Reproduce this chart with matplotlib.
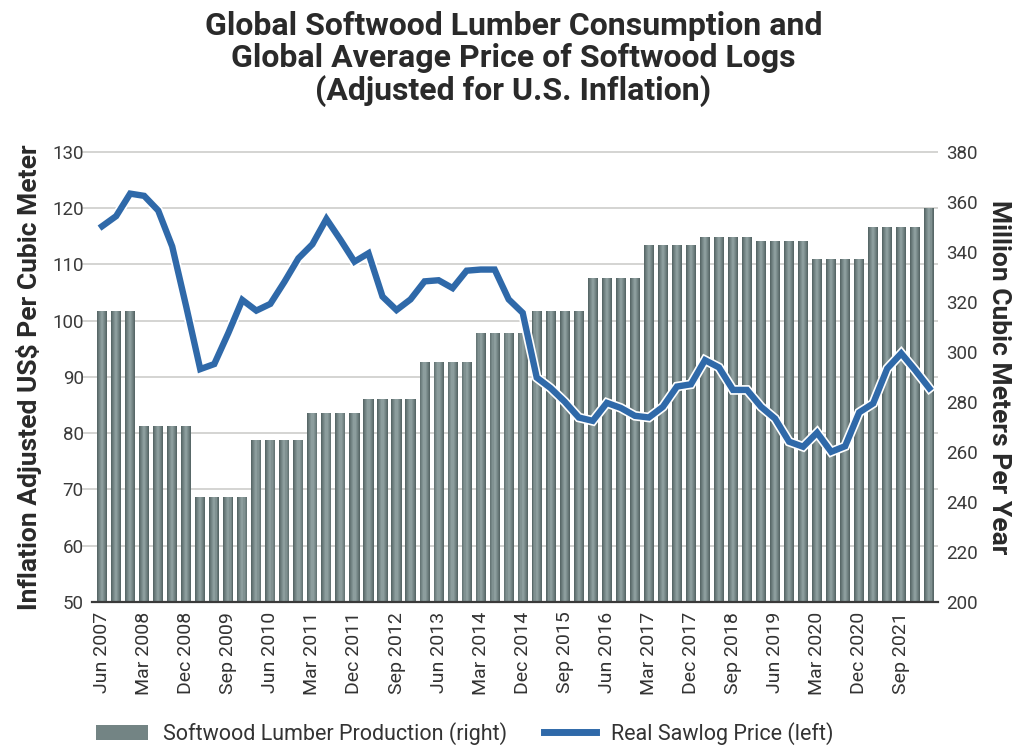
import matplotlib.pyplot as plt
import matplotlib.patheffects as pe
from matplotlib.patches import Patch
from matplotlib.lines import Line2D
from matplotlib.transforms import blended_transform_factory
import numpy as np

plt.rcParams['font.family'] = ['Roboto', 'DejaVu Sans']

# quarterly periods, Jun 2007 .. Mar 2022
months = ['Mar', 'Jun', 'Sep', 'Dec']
quarters = []
for year in range(2007, 2023):
    for m in months:
        quarters.append(f'{m} {year}')
quarters = quarters[1:61]

# annual production (million m3), repeated for each quarter of the year
production_by_year = {
    2007: 316.4, 2008: 270.4, 2009: 242.1, 2010: 264.8, 2011: 275.7,
    2012: 281.3, 2013: 296.1, 2014: 307.5, 2015: 316.4, 2016: 329.6,
    2017: 342.8, 2018: 346.1, 2019: 344.5, 2020: 337.3, 2021: 349.9,
    2022: 357.7,
}
production = [production_by_year[int(q.split()[1])] for q in quarters]

# real sawlog price, US$ per m3
price = [
    116.8, 118.6, 122.6, 122.2, 119.6, 113.2, 102.5, 91.4, 92.3, 97.8,
    103.7, 101.8, 103.0, 106.9, 111.1, 113.6, 118.1, 114.4, 110.5, 112.0,
    104.3, 101.9, 103.8, 107.0, 107.2, 105.8, 108.9, 109.1, 109.1, 103.8,
    101.4, 89.9, 88.0, 85.6, 82.8, 82.2, 85.4, 84.5, 83.1, 82.8,
    84.7, 88.3, 88.7, 93.0, 91.7, 87.7, 87.7, 84.7, 82.6, 78.5,
    77.6, 80.1, 76.7, 77.7, 83.7, 85.3, 91.5, 94.2, 91.2, 88.0,
]

x = np.arange(len(quarters))

fig = plt.figure(figsize=(10.27, 7.48), dpi=100)
ax = fig.add_axes([0.0896, 0.1952, 0.8237, 0.6016])
ax2 = ax.twinx()

# bars live on the right axis, price line on the left axis drawn on top
ax.set_zorder(ax2.get_zorder() + 1)
ax.patch.set_visible(False)
ax2.set_facecolor('#f2f2ee')

# gridlines follow the left scale but sit under the bars
left_ticks = np.arange(50, 131, 10)
trans = blended_transform_factory(ax2.transAxes, ax.transData)
ax2.hlines(left_ticks[1:], -0.012, 1, transform=trans, colors='#c9c9c6',
           linewidth=1.1, zorder=0, clip_on=False)

# cylinder-like shading: stacked bars, narrower and lighter towards the centre
shades = [(0.72, '#586868'), (0.60, '#667676'), (0.46, '#738484'),
          (0.32, '#809191'), (0.16, '#8c9d9d')]
for w, c in shades:
    ax2.bar(x, production, width=w, color=c, linewidth=0, zorder=2)

ax.plot(x, price, color='#2f69a9', linewidth=4.6, solid_joinstyle='miter',
        zorder=3, path_effects=[pe.Stroke(linewidth=7, foreground='white'),
                                pe.Normal()])

ax.set_xlim(-0.72, 59.62)
ax.set_ylim(50, 130)
ax2.set_ylim(200, 380)
ax.set_yticks(left_ticks)
ax2.set_yticks(np.arange(200, 381, 20))

ax.set_xticks(x[::3])
ax.set_xticklabels(quarters[::3], rotation=90, fontsize=14, color='#333333')
ax.tick_params(axis='x', length=0, pad=7)
ax.tick_params(axis='y', length=0, pad=6, labelsize=13.5, labelcolor='#3a3a3a')
ax2.tick_params(axis='y', length=0, pad=6, labelsize=13.5, labelcolor='#3a3a3a')

for a in (ax, ax2):
    for s in ('top', 'left', 'right', 'bottom'):
        a.spines[s].set_visible(False)
ax.spines['bottom'].set_visible(True)
ax.spines['bottom'].set_color('#3a3a3a')
ax.spines['bottom'].set_linewidth(1.6)

ax.set_ylabel('Inflation Adjusted US$ Per Cubic Meter', fontsize=19,
              fontweight='bold', color='#2a2a2a', labelpad=7)
ax2.set_ylabel('Million Cubic Meters Per Year', fontsize=19,
               fontweight='bold', color='#2a2a2a', rotation=-90, labelpad=24)

fig.text(0.5, 0.985, 'Global Softwood Lumber Consumption and\n'
         'Global Average Price of Softwood Logs\n(Adjusted for U.S. Inflation)',
         ha='center', va='top', fontsize=23, fontweight='bold',
         color='#2a2a2a', linespacing=1.08)

handles = [Patch(facecolor='#738484', edgecolor='none'),
           Line2D([0], [0], color='#2f69a9', linewidth=5)]
fig.legend(handles, ['Softwood Lumber Production (right)', 'Real Sawlog Price (left)'],
           loc='lower left', bbox_to_anchor=(0.075, -0.022), ncol=2, frameon=False,
           fontsize=15.5, handlelength=2.4, handleheight=0.7, columnspacing=1.7,
           handletextpad=0.7, labelcolor='#333333')

fig.savefig('out.png', dpi=100)
